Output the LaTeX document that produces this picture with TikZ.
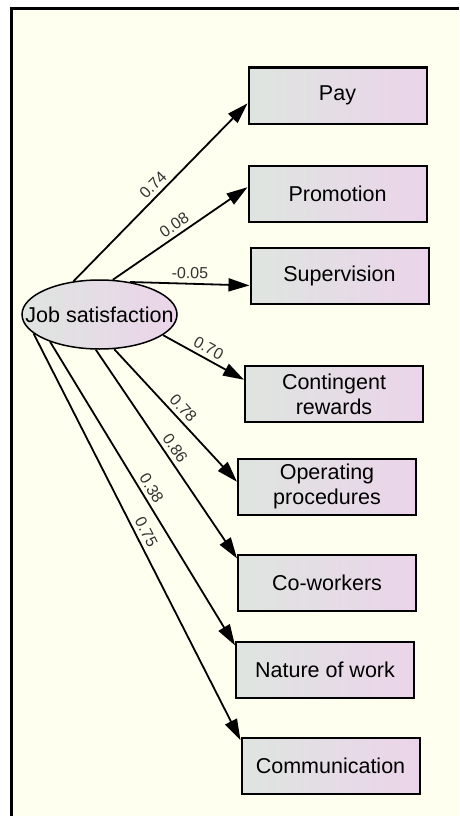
\documentclass[tikz,border=0pt]{standalone}
\usepackage{fontspec}
\setmainfont{Liberation Sans}
\usepackage{tikz}
\usetikzlibrary{arrows.meta,shapes.geometric}
\definecolor{leftgray}{RGB}{222,229,224}
\definecolor{rightpink}{RGB}{235,212,234}
\definecolor{paperyellow}{RGB}{254,255,238}

\begin{document}
\begin{tikzpicture}[
        x=1pt, y=-1pt,
        % Gradient fill from grey-green to pink, as in the path diagram output.
        box/.style={rectangle, draw, line width=2pt,
            left color=leftgray, right color=rightpink,
            minimum width=178pt,
            minimum height=56pt,
            inner sep=2pt,
            align=center, font=\fontsize{21.5}{25}\selectfont},
        latent/.style={ellipse, draw, line width=1.5pt,
            left color=leftgray, right color=rightpink,
            minimum width=155pt, minimum height=69pt, inner sep=0pt},
        link/.style={-{Triangle[length=21pt,width=13pt]}, line width=1.8pt},
        coef/.style={sloped, above=3pt, inner sep=1pt,
            font=\fontsize{16}{18}\selectfont, text=black!80}
    ]
        \useasboundingbox (0,0) rectangle (459,816);
        % Frame
        \fill[paperyellow] (11.5,8.5) rectangle (459,816);
        \draw[line width=3pt] (11.5,816) -- (11.5,8.5) -- (459,8.5);

        % Latent factor
        \node[latent, label={[font=\fontsize{21.5}{25}\selectfont]center:Job satisfaction}] (job) at (99.5,314.5) {};

        % Indicators
        \node[box] (pay) at (337.5,95.5) {Pay};
        \node[box] (promotion) at (337.5,193.5) {Promotion};
        \node[box] (supervision) at (339.5,276) {Supervision};
        \node[box] (contingent) at (334,394) {Contingent\\rewards};
        \node[box] (operating) at (327,486.5) {Operating\\procedures};
        \node[box] (coworkers) at (327,582.5) {Co-workers};
        \node[box] (nature) at (325,669.5) {Nature of work};
        \node[box] (communication) at (330.5,766) {Communication};

        % Connections
        \draw[link] (job.128) -- node[coef] {0.74} (pay.185);
        \draw[link] (job.69) -- node[coef] {0.08} (promotion.176);
        \draw[link] (job.47) -- node[coef] {-0.05} (supervision.186);
        \draw[link] (job.342) -- node[coef] {0.70} (contingent.171);
        \draw[link] (job.293) -- node[coef] {0.78} (operating.177);
        \draw[link] (job.264) -- node[coef] {0.86} (coworkers.165);
        \draw[link] (job.209) -- node[coef] {0.38} (nature.165);
        \draw[link] (job.196) -- node[coef] {0.75} (communication.164);
    \end{tikzpicture}
\end{document}
